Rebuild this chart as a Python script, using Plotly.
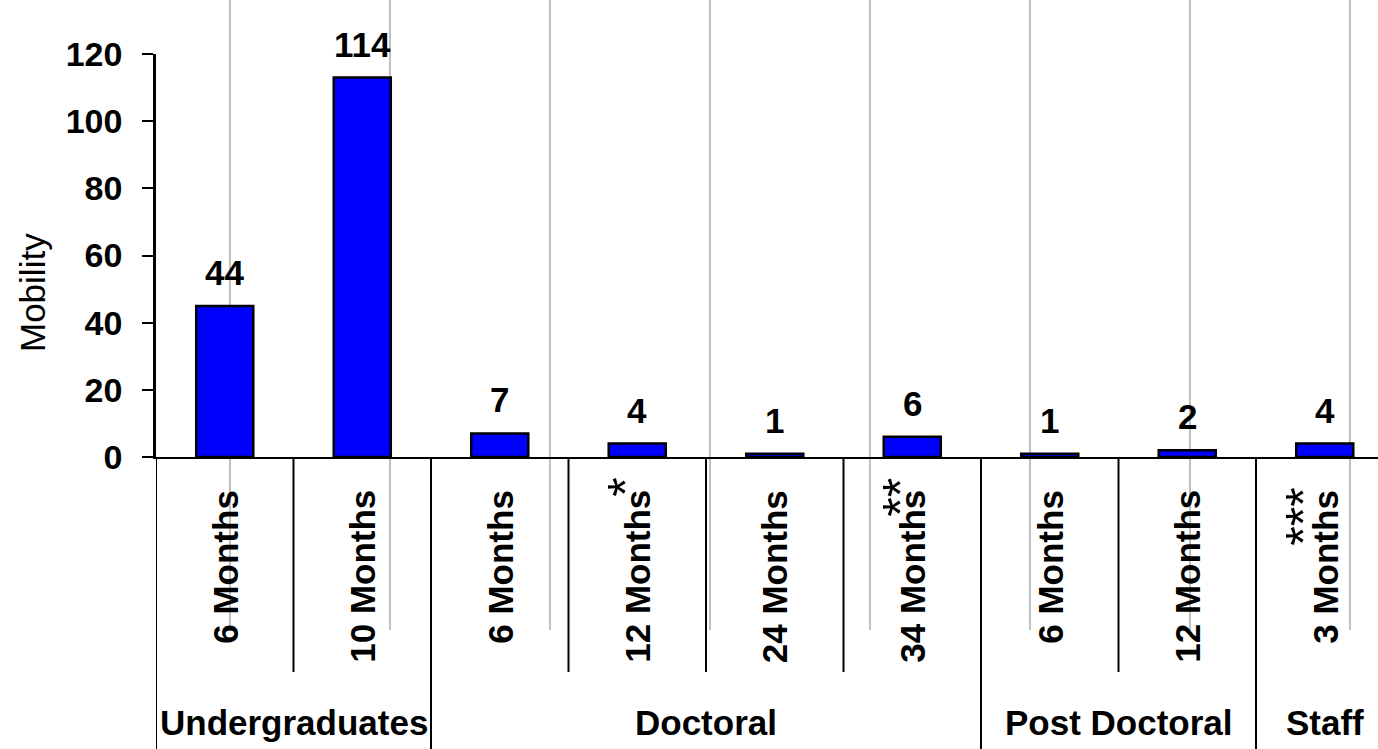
import plotly.graph_objects as go

# ---- data ----
durations = ["6 Months", "10 Months", "6 Months", "12 Months", "24 Months",
             "34 Months", "6 Months", "12 Months", "3 Months"]
footnotes = ["", "", "", "*", "", "**", "", "", "***"]
values = [45, 113, 7, 4, 1, 6, 1, 2, 4]          # bar heights as drawn
value_labels = ["44", "114", "7", "4", "1", "6", "1", "2", "4"]  # printed labels
groups = ["Undergraduates", "Doctoral", "Post Doctoral", "Staff"]
group_sizes = [2, 4, 2, 1]
y_ticks = [0, 20, 40, 60, 80, 100, 120]

# ---- layout geometry (pixels) ----
W, H = 1378, 749
L, T = 156, 54
AXIS_Y = 457
PH = AXIS_Y - T
B = H - AXIS_Y
PW = W - L
CAT_W = 137.5

def py(p):
    return (AXIS_Y - p) / PH

def px(p):
    return (p - L) / PW

FONT = "Liberation Sans, Arial, sans-serif"
n = len(durations)
xs = list(range(n))

fig = go.Figure()
fig.add_trace(go.Bar(
    x=xs, y=values, width=0.415,
    marker=dict(color="#0000FF", line=dict(color="black", width=2.5)),
    hoverinfo="skip",
))

annotations = []
# value labels
for i, (v, lab) in enumerate(zip(values, value_labels)):
    annotations.append(dict(x=i, y=v, xref="x", yref="y", text=f"<b>{lab}</b>",
                            showarrow=False, yanchor="bottom", xanchor="center",
                            yshift=12, font=dict(family=FONT, size=35, color="black")))
# category labels (rotated)
for i, (d, fn) in enumerate(zip(durations, footnotes)):
    annotations.append(dict(x=i, y=0, xref="x", yref="paper", text=f"<b>{d}</b>",
                            textangle=-90, showarrow=False, yanchor="top", xanchor="center",
                            yshift=-31, font=dict(family=FONT, size=35, color="black")))
    if fn:
        long_fn = len(fn) >= 3
        annotations.append(dict(x=i, y=0, xref="x", yref="paper", text=fn,
                                textangle=-90, showarrow=False, yanchor="top", xanchor="center",
                                yshift=-29 if long_fn else -19,
                                xshift=-21 if long_fn else -12,
                                font=dict(family=FONT, size=50, color="black")))
# group labels
start = 0
bounds = [-0.5]
for g, s in zip(groups, group_sizes):
    center = start + (s - 1) / 2
    annotations.append(dict(x=center, y=py(722), xref="x", yref="paper",
                            text=f"<b>{g}</b>", showarrow=False,
                            yanchor="middle", xanchor="center",
                            font=dict(family=FONT, size=35, color="black")))
    start += s
    bounds.append(start - 0.5)
# y-axis title
annotations.append(dict(x=px(32), y=py(293), xref="paper", yref="paper",
                        text="Mobility", textangle=-90, showarrow=False,
                        xanchor="center", yanchor="middle",
                        font=dict(family=FONT, size=35, color="black")))

shapes = []
# faint vertical lines
for gx in [230, 390, 550, 710, 870, 1030, 1190, 1350]:
    shapes.append(dict(type="line", xref="paper", yref="paper",
                       x0=px(gx), x1=px(gx), y0=py(0), y1=py(630),
                       line=dict(color="#C0C0C0", width=2), layer="below"))
# category separators
for k in range(n + 1):
    b = k - 0.5
    long_line = any(abs(b - gb) < 1e-9 for gb in bounds)
    shapes.append(dict(type="line", xref="x", yref="paper", x0=b, x1=b,
                       y0=0, y1=py(H if long_line else 672),
                       line=dict(color="black", width=2)))

fig.update_layout(
    width=W, height=H,
    margin=dict(l=L, r=0, t=T, b=B, pad=0),
    paper_bgcolor="white", plot_bgcolor="rgba(0,0,0,0)",
    showlegend=False,
    annotations=annotations, shapes=shapes,
    xaxis=dict(range=[-0.5, -0.5 + PW / CAT_W], showticklabels=False, ticks="",
               showgrid=False, zeroline=False, showline=True,
               linecolor="black", linewidth=2, fixedrange=True),
    yaxis=dict(range=[0, 120], tickvals=y_ticks, ticks="outside", ticklen=11,
               tickwidth=2, tickcolor="black", showgrid=False, zeroline=False,
               showline=True, linecolor="black", linewidth=2.5,
               ticklabelstandoff=13,
               tickfont=dict(family=FONT, size=34, color="black", weight="bold"),
               fixedrange=True),
)

fig.write_html(
    "out.html",
    config={"displayModeBar": False},
    post_script="document.body.style.margin='0';document.body.style.overflow='hidden';",
)
